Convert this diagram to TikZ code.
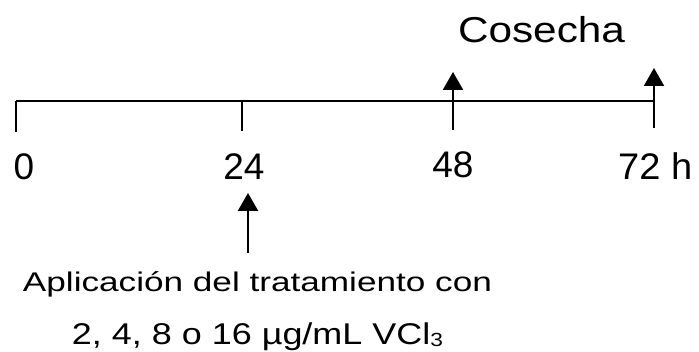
\documentclass[tikz,border=0pt]{standalone}
\usepackage{fontspec}
\setmainfont{Liberation Sans}
\usepackage{graphicx}
\usetikzlibrary{arrows.meta}
\newcommand{\fitw}[2]{\resizebox{#1}{\height}{#2}}
\begin{document}
\begin{tikzpicture}[x=1pt,y=1pt,
  axisline/.style={line width=2pt},
  arr/.style={line width=2pt,-{Triangle[width=20pt,length=18pt]}},
  lbl/.style={inner sep=0pt,anchor=base,font=\fontsize{37}{40}\selectfont},
  note/.style={inner sep=0pt,anchor=base}]
\useasboundingbox (0,0) rectangle (699,352);
% axis
\coordinate (L) at (16,251);
\coordinate (R) at (655,251);
\draw[axisline] (L) -- (R);
% ticks
\coordinate (t0b) at (16,220);
\coordinate (t24) at (242,251);
\coordinate (t24b) at (242,221);
\draw[axisline] (L) -- (t0b);
\draw[axisline] (t24) -- (t24b);
% harvest arrows
\coordinate (h48a) at (453,222);
\coordinate (h48b) at (453,280);
\coordinate (h72a) at (654,224);
\coordinate (h72b) at (654,284);
\draw[arr] (h48a) -- (h48b);
\draw[arr] (h72a) -- (h72b);
% treatment arrow
\coordinate (ta) at (248,99);
\coordinate (tb) at (248,159);
\draw[arr] (ta) -- (tb);
% labels
\node[lbl] (l0) at (24,172) {0};
\node[lbl] (l24) at (244,172) {24};
\node[lbl] (l48) at (453,174) {48};
\node[lbl,anchor=base west] (l72) at (618,172) {\fitw{74pt}{72 h}};
\node[note,font=\fontsize{36}{40}\selectfont] (cos) at (541.5,309) {\fitw{167pt}{Cosecha}};
\node[note,font=\fontsize{27}{30}\selectfont] (ap1) at (257.5,60) {\fitw{469pt}{Aplicación del tratamiento con}};
\node[note,font=\fontsize{30}{32}\selectfont] (ap2) at (257.5,7) {\fitw{371pt}{2, 4, 8 o 16 µg/mL VCl\raisebox{-2pt}{\fontsize{19}{20}\selectfont 3}}};
\end{tikzpicture}
\end{document}
